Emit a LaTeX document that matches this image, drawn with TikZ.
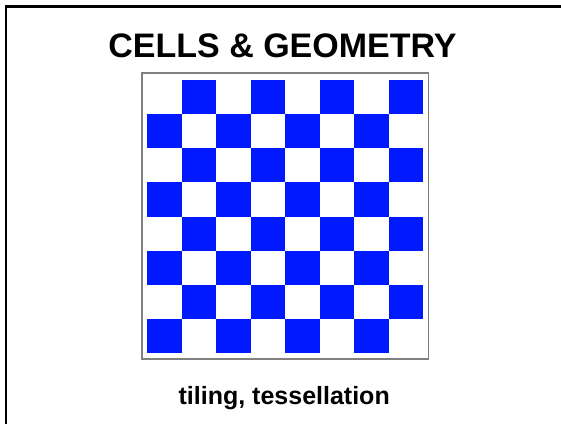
\documentclass[tikz,border=0pt]{standalone}
\usepackage{fontspec}
\setmainfont{Liberation Sans}
\definecolor{cellblue}{RGB}{0,25,255}
\definecolor{framegray}{RGB}{128,128,128}
\begin{document}
\begin{tikzpicture}[x=1pt,y=-1pt,
  titletext/.style={font=\bfseries\fontsize{34}{40}\selectfont, anchor=base, inner sep=0pt},
  subtext/.style={font=\bfseries\fontsize{25}{30}\selectfont, anchor=base, inner sep=0pt},
  cell/.style={fill=cellblue, draw=none},
  boardframe/.style={draw=framegray, line width=1.6pt}]
\useasboundingbox (0,0) rectangle (561,423);
\fill[white] (0,0) rectangle (561,423);
% outer border (top and left visible)
\draw[line width=2.6pt] (6,600) -- (6,6.6) -- (700,6.6);
% title
\node[titletext] (title) at (282.5,57) {CELLS \& GEOMETRY};
% board frame
\draw[boardframe] (141.7,72.7) rectangle (428.3,359);
% cells
\foreach \r in {0,...,7}{
  \foreach \c in {0,...,7}{
    \pgfmathparse{int(mod(\r+\c,2))}
    \ifnum\pgfmathresult=1
      \fill[cell] ({147+\c*34.5},{80+\r*34.15}) rectangle ++(34.5,34.15);
    \fi
  }
}
% subtitle
\node[subtext] (sub) at (284.2,404) {tiling, tessellation};
\end{tikzpicture}
\end{document}
